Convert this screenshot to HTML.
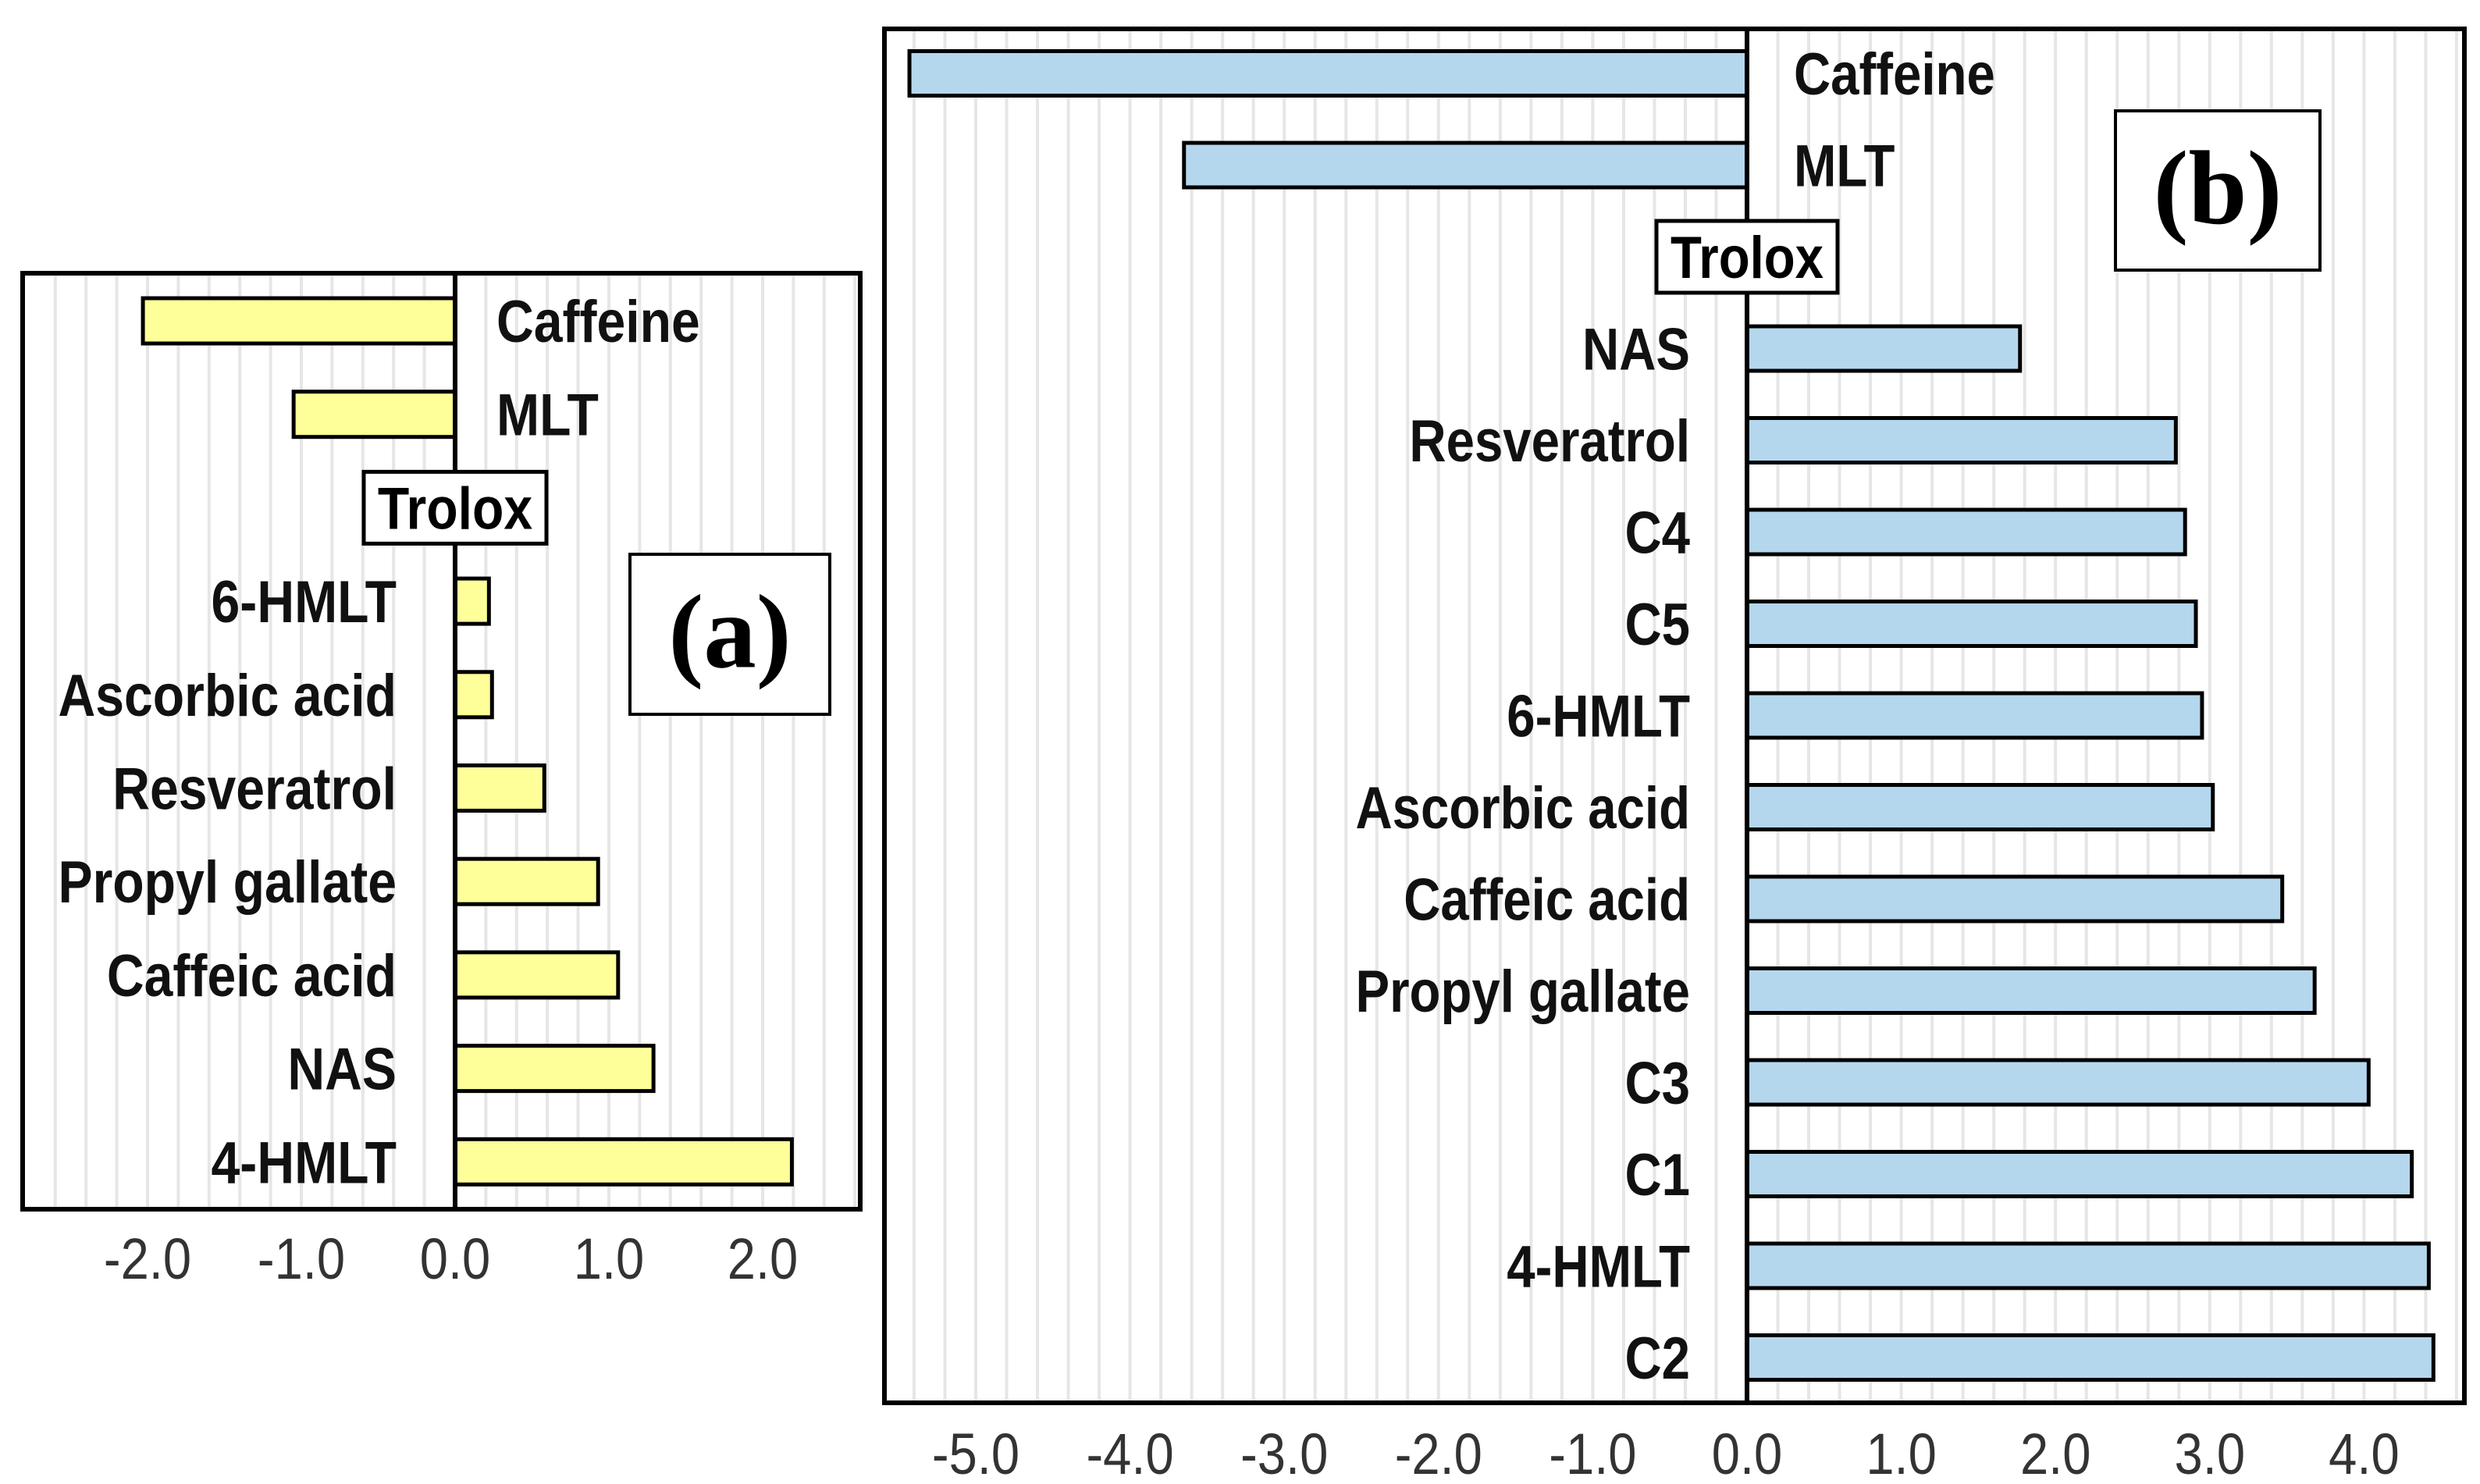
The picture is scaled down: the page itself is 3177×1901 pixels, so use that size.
<!DOCTYPE html>
<html><head><meta charset="utf-8"><style>
html,body{margin:0;padding:0;background:#fff;}
svg{display:block;}
</style></head><body>
<svg id="fig" xmlns="http://www.w3.org/2000/svg" width="3177" height="1901" viewBox="0 0 3177 1901"></svg>
<script>
const catsA = ["Caffeine","MLT","Trolox","6-HMLT","Ascorbic acid","Resveratrol","Propyl gallate","Caffeic acid","NAS","4-HMLT"];
const valsA = [-2.03,-1.05,0,0.22,0.24,0.58,0.93,1.06,1.29,2.19];
const ticksA = [-2,-1,0,1,2];
const tickLabelsA = ["-2.0","-1.0","0.0","1.0","2.0"];
const catsB = ["Caffeine","MLT","Trolox","NAS","Resveratrol","C4","C5","6-HMLT","Ascorbic acid","Caffeic acid","Propyl gallate","C3","C1","4-HMLT","C2"];
const valsB = [-5.43,-3.65,0,1.77,2.78,2.84,2.91,2.95,3.02,3.47,3.68,4.03,4.31,4.42,4.45];
const ticksB = [-5,-4,-3,-2,-1,0,1,2,3,4];
const tickLabelsB = ["-5.0","-4.0","-3.0","-2.0","-1.0","0.0","1.0","2.0","3.0","4.0"];

const NS="http://www.w3.org/2000/svg";
const svg=document.getElementById('fig');
const SANS='font-family:"Liberation Sans",Arial,sans-serif';
function mk(tag,attrs,parent){const e=document.createElementNS(NS,tag);for(const k in attrs)e.setAttribute(k,attrs[k]);(parent||svg).appendChild(e);return e;}

function panel(cfg){
  const g=mk('g',{});
  
  
  const x=v=>cfg.zero+v*cfg.unit;
  const y=i=>cfg.row0+i*cfg.rowStep;
  for(let v=Math.ceil(cfg.min/0.2)*0.2; v<=cfg.max; v+=0.2){
    const px=x(v); if(px<=cfg.L+4||px>=cfg.R-4) continue;
    const ln=mk('line',{x1:px,x2:px,y1:cfg.T,y2:cfg.B,stroke:'#e6e6e6','stroke-width':4},g);
    
    
  }
  cfg.cats.forEach((c,i)=>{
    const v=cfg.vals[i];
    if(v!==0){
      const r=mk('rect',{x:Math.min(x(0),x(v)),y:y(i)-cfg.barH/2,width:Math.abs(x(v)-x(0)),height:cfg.barH,fill:cfg.color,stroke:'#000','stroke-width':5},g);
      
      
    }
  });
  const za=mk('line',{x1:x(0),x2:x(0),y1:cfg.T,y2:cfg.B,stroke:'#000','stroke-width':6},g);
  
  
  cfg.cats.forEach((c,i)=>{
    const v=cfg.vals[i];
    if(v===0){
      const bw=cfg.trolox.w, bh=cfg.trolox.h;
      const bx=mk('rect',{x:x(0)-bw/2,y:y(i)-bh/2,width:bw,height:bh,fill:'#fff',stroke:'#000','stroke-width':5},g);
      
      
      const t=mk('text',{transform:`translate(${x(0)},${y(i)+27}) scale(${cfg.sx},1)`,'text-anchor':'middle','font-size':cfg.fs,'font-weight':'bold',fill:'#000',style:SANS},g);
      t.textContent=c;
      
      
    } else {
      const neg=v<0;
      const lx=neg?cfg.negLabelX:cfg.posLabelX;
      const t=mk('text',{transform:`translate(${lx},${y(i)+27}) scale(${cfg.sx},1)`,'text-anchor':neg?'start':'end','font-size':cfg.fs,'font-weight':'bold',fill:'#111',style:SANS},g);
      t.textContent=c;
      
      
    }
  });
  const fr=mk('rect',{x:cfg.L,y:cfg.T,width:cfg.R-cfg.L,height:cfg.B-cfg.T,fill:'none',stroke:'#000','stroke-width':6},g);
  
  
  cfg.ticks.forEach((tv,i)=>{
    const t=mk('text',{transform:`translate(${x(tv)},${cfg.tickY}) scale(0.88,1)`,'text-anchor':'middle','font-size':74,fill:'#333',style:SANS},g);
    t.textContent=cfg.tickLabels[i];
    
    
  });
  const p=cfg.tag;
  const pb=mk('rect',{x:p.x,y:p.y,width:p.w,height:p.h,fill:'#fff',stroke:'#000','stroke-width':4},g);
  
  
  const pt=mk('text',{x:p.x+p.w/2,y:p.y+p.h/2+42,'text-anchor':'middle','font-size':135,'font-weight':'bold',style:'font-family:"Liberation Serif","Times New Roman",serif',fill:'#000'},g);
  pt.textContent=p.text;
  
  
}

panel({name:'panel-a',cats:catsA,vals:valsA,ticks:ticksA,tickLabels:tickLabelsA,color:'#ffff99',
  L:29,T:350,R:1102,B:1549,zero:583,unit:197,min:-2.8,max:2.8,row0:411,rowStep:119.7,barH:58,
  fs:76,sx:0.87,posLabelX:508,negLabelX:636,tickY:1638,trolox:{w:234,h:92},
  tag:{x:807,y:710,w:256,h:205,text:'(a)'}});
panel({name:'panel-b',cats:catsB,vals:valsB,ticks:ticksB,tickLabels:tickLabelsB,color:'#b4d7ee',
  L:1133,T:37,R:3157,B:1797,zero:2238,unit:197.6,min:-5.7,max:4.7,row0:94,rowStep:117.5,barH:57,
  fs:76,sx:0.86,posLabelX:2165,negLabelX:2298,tickY:1888,trolox:{w:232,h:92},
  tag:{x:2710,y:142,w:262,h:204,text:'(b)'}});
</script>
</body></html>
